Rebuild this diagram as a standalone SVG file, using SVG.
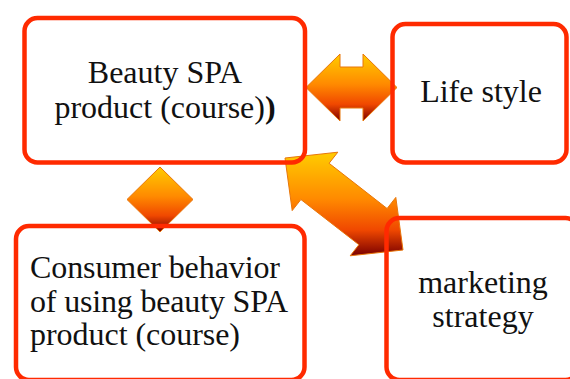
<svg xmlns="http://www.w3.org/2000/svg" width="570" height="379" viewBox="0 0 570 379">
  <defs>
    <linearGradient id="warm" x1="0" y1="0" x2="0" y2="1">
      <stop offset="0" stop-color="#FFCC00"/>
      <stop offset="0.45" stop-color="#FF8A00"/>
      <stop offset="0.75" stop-color="#F04800"/>
      <stop offset="1" stop-color="#7A0000"/>
    </linearGradient>
    <style>
      .box { fill: none; stroke: #FF2A00; stroke-width: 4.5; }
      .shape { fill: url(#warm); stroke: #E8760A; stroke-width: 1; stroke-linejoin: miter; }
      .label { font-family: "Liberation Serif", "Times New Roman", serif; font-size: 32px; fill: #111; }
    </style>
  </defs>

  <!-- connectors: drawn first so box outlines sit on top -->
  <g id="connectors">
    <path class="shape" d="M306,87.5 L340,54 L340,67 L363,67 L363,54 L397,87.5 L363,121 L363,108 L340,108 L340,121 Z"/>
    <path class="shape" d="M160,167 L193,199.5 L160,232 L127,199.5 Z"/>
    <path class="shape" d="M285,158 L337.8,152.2 L329.1,163.3 L387.1,208.5 L395.8,197.4 L403,250 L350.2,255.8 L358.9,244.7 L300.9,199.5 L292.2,210.6 Z"/>
  </g>

  <g id="node-product">
    <rect class="box" x="24.5" y="18" width="280.5" height="144.5" rx="13"/>
    <text class="label" text-anchor="middle" x="165" y="83">Beauty SPA</text>
    <text class="label" text-anchor="middle" x="165" y="118">product (course)<tspan font-weight="bold">)</tspan></text>
  </g>

  <g id="node-lifestyle">
    <rect class="box" x="392.5" y="24" width="174" height="138.5" rx="13"/>
    <text class="label" text-anchor="middle" x="481" y="102">Life style</text>
  </g>

  <g id="node-consumer">
    <rect class="box" x="16" y="226" width="288.5" height="154" rx="13"/>
    <text class="label" x="30" y="278" textLength="250" lengthAdjust="spacing">Consumer behavior</text>
    <text class="label" x="30" y="312" textLength="258" lengthAdjust="spacing">of using beauty SPA</text>
    <text class="label" x="30" y="345" textLength="210" lengthAdjust="spacing">product (course)</text>
  </g>

  <g id="node-marketing">
    <rect class="box" x="386.5" y="218" width="192" height="162" rx="13"/>
    <text class="label" text-anchor="middle" x="483" y="293">marketing</text>
    <text class="label" text-anchor="middle" x="483" y="327">strategy</text>
  </g>
</svg>
